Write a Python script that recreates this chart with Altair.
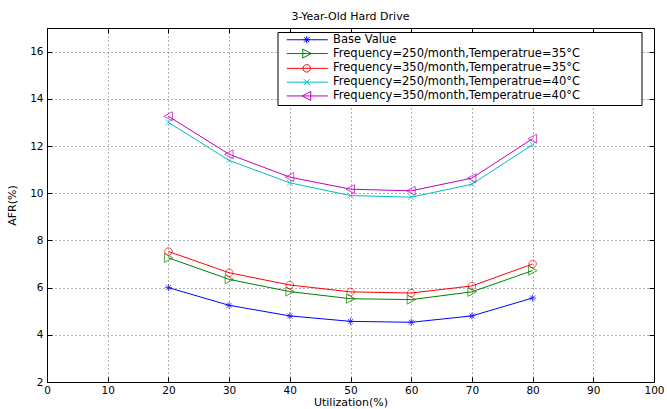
import altair as alt
import pandas as pd

utilization = [20, 30, 40, 50, 60, 70, 80]
series_names = [
    "Base Value",
    "Frequency=250/month,Temperatrue=35°C",
    "Frequency=350/month,Temperatrue=35°C",
    "Frequency=250/month,Temperatrue=40°C",
    "Frequency=350/month,Temperatrue=40°C",
]
base_value = [6.00, 5.25, 4.80, 4.57, 4.53, 4.80, 5.56]
f250_t35 = [7.26, 6.35, 5.83, 5.53, 5.49, 5.82, 6.72]
f350_t35 = [7.53, 6.63, 6.11, 5.82, 5.77, 6.07, 7.00]
f250_t40 = [13.00, 11.39, 10.44, 9.90, 9.83, 10.38, 12.06]
f350_t40 = [13.26, 11.65, 10.68, 10.17, 10.10, 10.64, 12.31]
x_ticks = [0, 10, 20, 30, 40, 50, 60, 70, 80, 90, 100]
y_ticks = [2, 4, 6, 8, 10, 12, 14, 16]

series_values = [base_value, f250_t35, f350_t35, f250_t40, f350_t40]
colors = ["#0000ff", "#008000", "#ff0000", "#00bfbf", "#bf00bf"]

# marker glyphs (unit square -1..1)
marker_paths = [
    "M-0.7,0L0.7,0M0,-0.7L0,0.7M-0.5,-0.5L0.5,0.5M-0.5,0.5L0.5,-0.5",
    "M-0.8,-0.9L0.9,0L-0.8,0.9Z",
    "M0.75,0A0.75,0.75,0,1,1,-0.75,0A0.75,0.75,0,1,1,0.75,0Z",
    "M-0.6,-0.6L0.6,0.6M-0.6,0.6L0.6,-0.6",
    "M0.8,-0.9L-0.9,0L0.8,0.9Z",
]
# legend glyphs: line with the marker in the middle
legend_paths = [
    "M0.3,0L8.5,0M3.6,0L5,0M4.3,-0.7L4.3,0.7M3.8,-0.5L4.8,0.5M3.8,0.5L4.8,-0.5",
    "M0.3,0L8.5,0M3.5,-0.9L5.2,0L3.5,0.9Z",
    "M0.3,0L8.5,0M5.05,0A0.75,0.75,0,1,1,3.55,0A0.75,0.75,0,1,1,5.05,0Z",
    "M0.3,0L8.5,0M3.7,-0.6L4.9,0.6M3.7,0.6L4.9,-0.6",
    "M0.3,0L8.5,0M5.1,-0.9L3.4,0L5.1,0.9Z",
]

rows = []
for name, vals in zip(series_names, series_values):
    for u, v in zip(utilization, vals):
        rows.append({"series": name, "util": u, "afr": v})
df = pd.DataFrame(rows)

FONT = "DejaVu Sans"
xscale = alt.Scale(domain=[0, 100], nice=False)
yscale = alt.Scale(domain=[2, 17], nice=False)
cscale = alt.Scale(domain=series_names, range=colors)

x_main = alt.X("util:Q", scale=xscale, axis=alt.Axis(
    values=x_ticks, title="Utilization(%)", grid=True, domain=False,
    offset=-5, tickSize=5, tickColor="black", labelPadding=3,
    titlePadding=1, labelFont=FONT, labelFontSize=10.5, labelColor="black",
    titleFont=FONT, titleFontSize=11, titleFontWeight="normal", titleColor="black",
    gridDash=[1, 3], gridColor="#000000", gridOpacity=0.6, labelFlush=False))
y_main = alt.Y("afr:Q", scale=yscale, axis=alt.Axis(
    values=y_ticks, title="AFR(%)", grid=True, domain=False,
    offset=-5, tickSize=5, tickColor="black", labelPadding=4,
    titlePadding=12, labelFont=FONT, labelFontSize=10.5, labelColor="black",
    titleFont=FONT, titleFontSize=11, titleFontWeight="normal", titleColor="black",
    gridDash=[1, 3], gridColor="#000000", gridOpacity=0.6, labelFlush=False))

x_top = alt.X("util:Q", scale=xscale, axis=alt.Axis(
    orient="top", values=x_ticks, title=None, labels=False, grid=False,
    domain=False, offset=-5, tickSize=5, tickColor="black"))
y_right = alt.Y("afr:Q", scale=yscale, axis=alt.Axis(
    orient="right", values=y_ticks, title=None, labels=False, grid=False,
    domain=False, offset=-5, tickSize=5, tickColor="black"))

x_none = alt.X("util:Q", scale=xscale, axis=None)
y_none = alt.Y("afr:Q", scale=yscale, axis=None)

# trailing blank room in the legend box (braille blanks are not trimmed)
pad = "\u2800" * 7
legend = alt.Legend(
    title=None, orient="none", legendX=230.5, legendY=4, padding=2,
    rowPadding=0.8, symbolSize=100, symbolStrokeWidth=1, labelOffset=42,
    labelFont=FONT, labelFontSize=11.5, labelColor="black", labelLimit=800,
    strokeColor="black", fillColor="white", symbolFillColor="transparent",
    symbolOpacity=1,
    labelExpr="datum.label + '" + pad + "'",
)
color_enc = alt.Color("series:N", scale=cscale, legend=legend)

base = alt.Chart(df)

lines = base.mark_line(strokeWidth=1).encode(x=x_main, y=y_main, color=color_enc)

point_layers = []
for name, path in zip(series_names, marker_paths):
    point_layers.append(
        base.mark_point(shape=path, size=100, filled=False, strokeWidth=1)
        .transform_filter(alt.FieldEqualPredicate(field="series", equal=name))
        .encode(x=x_none, y=y_none, color=color_enc)
    )

legend_layer = base.mark_point(filled=False, opacity=0).encode(
    x=x_top, y=y_right, color=color_enc,
    shape=alt.Shape("series:N", scale=alt.Scale(domain=series_names, range=legend_paths), legend=legend),
)

chart = alt.layer(lines, *point_layers, legend_layer).resolve_axis(
    x="independent", y="independent"
).properties(
    width=607, height=354,
    title=alt.TitleParams("3-Year-Old Hard Drive", font=FONT, fontSize=11,
                          fontWeight="normal", color="black", offset=6),
    autosize=alt.AutoSizeParams(type="none"),
    padding={"left": 47, "top": 28, "right": 13, "bottom": 27},
    background="white",
).configure_view(stroke="black", strokeWidth=1)

chart.save("out.html", embed_options={"renderer": "svg", "actions": False})
